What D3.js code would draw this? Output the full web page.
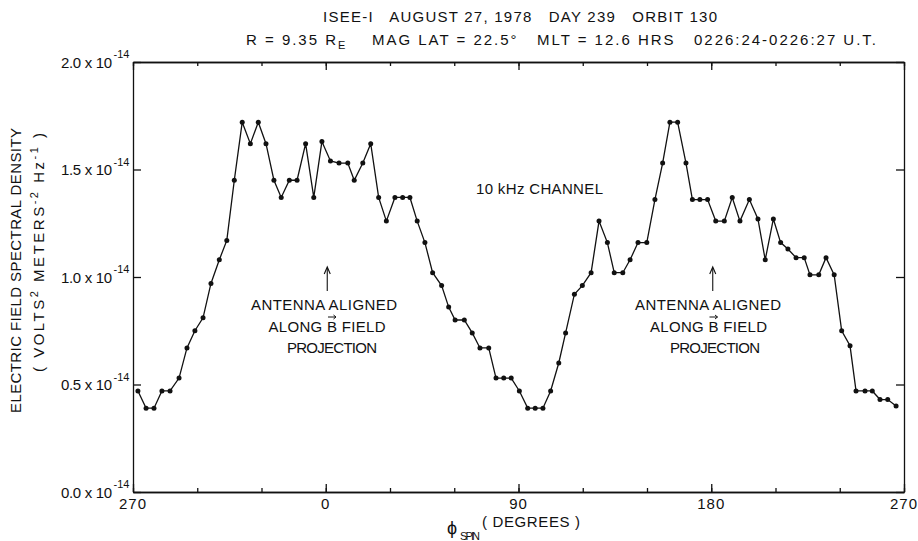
<!DOCTYPE html>
<html>
<head>
<meta charset="utf-8">
<script src="https://cdn.jsdelivr.net/npm/d3@7"></script>
<style>
  body { margin: 0; background: #fff; }
  svg text { font-family: "Liberation Sans", "Roboto", sans-serif; fill: #111; white-space: pre; }
</style>
</head>
<body>
<div id="chart"></div>
<script>
// spin phase of each sample (degrees, 270 shown on the left is -90 here)
var phi = [-87.7, -83.9, -80.2, -76.5, -72.7, -68.5, -64.8, -61.1, -57.3, -53.6,
  -49.7, -46.2, -42.7, -39.0, -35.2, -31.5, -27.9, -24.2, -20.8, -17.0,
  -13.4, -9.4, -5.6, -1.8, 2.2, 6.2, 10.3, 13.3, 17.3, 21.0,
  24.7, 28.3, 32.3, 35.9, 39.3, 42.7, 46.3, 49.9, 54.1, 57.4,
  60.4, 64.7, 68.4, 72.0, 76.1, 79.5, 83.1, 86.6, 90.4, 94.3,
  97.8, 101.4, 105.0, 108.8, 112.0, 116.1, 119.8, 123.9, 127.6, 131.5,
  134.7, 138.7, 142.1, 145.8, 149.9, 153.7, 157.3, 160.7, 164.3, 168.2,
  171.2, 174.7, 178.3, 182.1, 186.1, 189.8, 193.4, 197.8, 201.8, 205.2,
  209.0, 212.4, 215.8, 219.6, 223.4, 226.1, 230.2, 233.6, 237.4, 240.9,
  244.8, 247.6, 251.8, 255.2, 258.8, 262.4, 266.3];

// spectral density in units of 1e-14 V^2 m^-2 Hz^-1
var density = [0.47, 0.39, 0.39, 0.47, 0.47, 0.53, 0.67, 0.75, 0.81, 0.97,
  1.08, 1.17, 1.45, 1.72, 1.62, 1.72, 1.62, 1.45, 1.37, 1.45,
  1.45, 1.62, 1.37, 1.63, 1.54, 1.53, 1.53, 1.45, 1.53, 1.62,
  1.37, 1.26, 1.37, 1.37, 1.37, 1.26, 1.16, 1.02, 0.96, 0.86,
  0.80, 0.80, 0.74, 0.67, 0.67, 0.53, 0.53, 0.53, 0.47, 0.39,
  0.39, 0.39, 0.47, 0.60, 0.74, 0.92, 0.96, 1.02, 1.26, 1.16,
  1.02, 1.02, 1.08, 1.16, 1.16, 1.36, 1.53, 1.72, 1.72, 1.53,
  1.36, 1.36, 1.36, 1.26, 1.26, 1.37, 1.26, 1.36, 1.27, 1.08,
  1.27, 1.16, 1.13, 1.09, 1.09, 1.01, 1.01, 1.09, 1.01, 0.75,
  0.68, 0.47, 0.47, 0.47, 0.43, 0.43, 0.40];

var xTicksMajor = [-90, 0, 90, 180, 270];
var xTicksMinor = d3.range(-90, 271, 30);
var yTicks = [0, 0.5, 1.0, 1.5, 2.0];
var yTickLabels = ["0.0 x 10", "0.5 x 10", "1.0 x 10", "1.5 x 10", "2.0 x 10"];

var title1 = ["ISEE-I", "AUGUST 27, 1978", "DAY 239", "ORBIT 130"];
var title2 = ["MAG LAT = 22.5\u00B0", "MLT = 12.6 HRS", "0226:24-0226:27 U.T."];

var width = 918, height = 541;
var boxL = 133, boxR = 904, boxT = 62, boxB = 492;

var svg = d3.select("#chart").append("svg")
  .attr("width", width).attr("height", height);

var x = d3.scaleLinear().domain([-90, 270]).range([boxL, boxR]);
var y = d3.scaleLinear().domain([0, 2]).range([boxB, boxT]);

function styleAxis(g) {
  g.selectAll("path, line").attr("stroke", "#111").attr("stroke-width", 1.3);
  g.selectAll("text").remove();
}

// fixed-width text helper, the lettering in the figure is widely spaced
function label(parent, x0, y0, w, anchor, size) {
  return parent.append("text").attr("x", x0).attr("y", y0)
    .attr("text-anchor", anchor || "start")
    .attr("textLength", w).attr("lengthAdjust", "spacing")
    .style("font-size", (size || 15) + "px");
}

// minor ticks top and bottom
svg.append("g").attr("transform", "translate(0," + boxB + ")")
  .call(d3.axisBottom(x).tickValues(xTicksMinor).tickSizeInner(-4).tickSizeOuter(0))
  .call(styleAxis);
svg.append("g").attr("transform", "translate(0," + boxT + ")")
  .call(d3.axisTop(x).tickValues(xTicksMinor).tickSizeInner(-4).tickSizeOuter(0))
  .call(styleAxis);
// major ticks
svg.append("g").attr("transform", "translate(0," + boxB + ")")
  .call(d3.axisBottom(x).tickValues(xTicksMajor).tickSizeInner(-8).tickSizeOuter(0))
  .call(styleAxis);
svg.append("g").attr("transform", "translate(0," + boxT + ")")
  .call(d3.axisTop(x).tickValues(xTicksMajor).tickSizeInner(-8).tickSizeOuter(0))
  .call(styleAxis);
svg.append("g").attr("transform", "translate(" + boxL + ",0)")
  .call(d3.axisLeft(y).tickValues(yTicks).tickSizeInner(-8).tickSizeOuter(0))
  .call(styleAxis);
svg.append("g").attr("transform", "translate(" + boxR + ",0)")
  .call(d3.axisRight(y).tickValues(yTicks).tickSizeInner(-8).tickSizeOuter(0))
  .call(styleAxis);

// x tick labels
svg.selectAll(".xlab").data(xTicksMajor).enter().append("text")
  .attr("class", "xlab")
  .attr("x", d => x(d)).attr("y", boxB + 17)
  .attr("text-anchor", "middle").style("font-size", "15px")
  .style("letter-spacing", "1px")
  .text(d => ((d % 360) + 360) % 360);

// y tick labels with superscript
svg.selectAll(".ylab").data(yTicks).enter().append("text")
  .attr("class", "ylab")
  .attr("x", 112).attr("y", d => y(d) + 5.5)
  .attr("text-anchor", "end").style("font-size", "15px")
  .attr("textLength", 51).attr("lengthAdjust", "spacing")
  .text((d, i) => yTickLabels[i]);
svg.selectAll(".ysup").data(yTicks).enter().append("text")
  .attr("class", "ysup")
  .attr("x", 113.5).attr("y", d => y(d) - 4)
  .style("font-size", "11px").text("-14");

// y axis title
var yt = svg.append("g").attr("transform", "rotate(-90)");
label(yt, -270.5, 21, 285, "middle").text("ELECTRIC FIELD SPECTRAL DENSITY");
var yt2 = label(yt, -252.5, 44, 239, "middle");
yt2.append("tspan").text("( VOLTS");
yt2.append("tspan").attr("dy", -6).style("font-size", "11px").text("2");
yt2.append("tspan").attr("dy", 6).text(" METERS");
yt2.append("tspan").attr("dy", -6).style("font-size", "11px").text("-2");
yt2.append("tspan").attr("dy", 6).text(" Hz");
yt2.append("tspan").attr("dy", -6).style("font-size", "11px").text("-1");
yt2.append("tspan").attr("dy", 6).text(" )");

// x axis title
svg.append("text").attr("x", 447).attr("y", 534).style("font-size", "18px").text("\u03D5");
svg.append("text").attr("x", 460).attr("y", 540).style("font-size", "11px")
  .attr("textLength", 20).attr("lengthAdjust", "spacing").text("SPIN");
label(svg, 482, 527, 98).text("( DEGREES )");

// titles
label(svg, 323, 22, 394).text(title1.join("   "));
var t2 = label(svg, 246, 45, 630);
t2.append("tspan").text("R = 9.35 R");
t2.append("tspan").attr("dy", 4).style("font-size", "11px").text("E");
t2.append("tspan").attr("dy", -4).text("    " + title2.join("   "));

// annotations
label(svg, 476, 194, 127).text("10 kHz CHANNEL");

var notes = [{at: 0, c: [324, 327, 332]}, {at: 180, c: [708, 708.5, 715]}];
var noteLines = ["ANTENNA ALIGNED", "ALONG B FIELD", "PROJECTION"];
var noteWidths = [146, 117, 90];
notes.forEach(function (n) {
  var ax = x(n.at) + 1.5;
  svg.append("line").attr("x1", ax).attr("x2", ax).attr("y1", 291).attr("y2", 268)
    .attr("stroke", "#111").attr("stroke-width", 1.1);
  svg.append("path").attr("d", "M" + (ax - 3) + ",274 L" + ax + ",267 L" + (ax + 3) + ",274")
    .attr("fill", "none").attr("stroke", "#111").attr("stroke-width", 1.1);
  noteLines.forEach(function (s, i) {
    var ty = 310 + i * 21.5;
    var t = label(svg, n.c[i], ty, noteWidths[i], "middle").text(s);
    if (i === 1) {
      // vector arrow over the B
      var node = t.node();
      var k = s.indexOf("B");
      var s0 = node.getStartPositionOfChar(k), s1 = node.getEndPositionOfChar(k);
      var ay = ty - 14.5;
      svg.append("path")
        .attr("d", "M" + (s0.x + 1) + "," + ay + " L" + (s1.x - 1) + "," + ay +
          " M" + (s1.x - 3.5) + "," + (ay - 2) + " L" + (s1.x - 1) + "," + ay + " L" + (s1.x - 3.5) + "," + (ay + 2))
        .attr("fill", "none").attr("stroke", "#111").attr("stroke-width", 1);
    }
  });
});

// data line and dots
var pts = phi.map((p, i) => ({p: p, v: density[i]}));
svg.append("path").datum(pts)
  .attr("d", d3.line().x(d => x(d.p)).y(d => y(d.v)))
  .attr("fill", "none").attr("stroke", "#111").attr("stroke-width", 1.3);
svg.selectAll(".dot").data(pts).enter().append("circle")
  .attr("cx", d => x(d.p)).attr("cy", d => y(d.v)).attr("r", 2.5).attr("fill", "#111");
</script>
</body>
</html>
